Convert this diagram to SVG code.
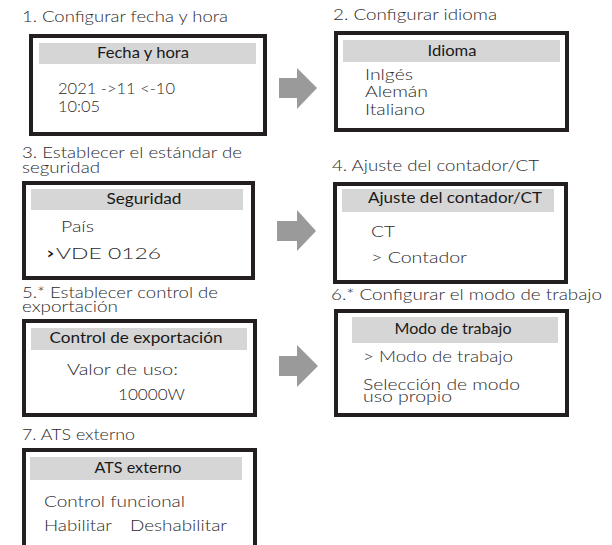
<svg xmlns="http://www.w3.org/2000/svg" width="612" height="545" viewBox="0 0 612 545">
<style>
text{font-family:Lato,"Open Sans","Liberation Sans",sans-serif;fill:#2a2a2a;font-weight:300;}
.t{font-size:16px;}
.h{font-size:15px;text-anchor:middle;fill:#1a1a1a;font-weight:400;}
.b{font-size:16px;}
.box{fill:#fff;stroke:#231f20;stroke-width:4;}
.hd{fill:#d6d6d6;}
.arr{fill:#9a9a9a;}
</style>
<rect width="612" height="545" fill="#fff"/>
<g id="n1">
<text class="t" x="22" y="22" textLength="206" lengthAdjust="spacingAndGlyphs">1. Configurar fecha y hora</text>
<rect class="box" x="31" y="36" width="234" height="98"/>
<rect class="hd" x="39" y="43" width="217" height="21"/>
<text class="h" x="143" y="58" textLength="92" lengthAdjust="spacingAndGlyphs">Fecha y hora</text>
<text class="b" x="58" y="94" textLength="117" lengthAdjust="spacingAndGlyphs">2021 -&gt;11 &lt;-10</text>
<text class="b" x="58" y="112" textLength="42" lengthAdjust="spacingAndGlyphs">10:05</text>
</g>
<g id="n2">
<text class="t" x="333" y="20" textLength="164" lengthAdjust="spacingAndGlyphs">2. Configurar idioma</text>
<rect class="box" x="336" y="33" width="231" height="97"/>
<rect class="hd" x="343" y="40" width="217" height="22"/>
<text class="h" x="452" y="56" textLength="49" lengthAdjust="spacingAndGlyphs">Idioma</text>
<text class="b" x="365" y="80" textLength="48" lengthAdjust="spacingAndGlyphs">Inlgés</text>
<text class="b" x="365" y="97" textLength="63" lengthAdjust="spacingAndGlyphs">Alemán</text>
<text class="b" x="365" y="115" textLength="60" lengthAdjust="spacingAndGlyphs">Italiano</text>
</g>
<g id="n3">
<text class="t" x="22" y="158" textLength="220" lengthAdjust="spacingAndGlyphs">3. Establecer el estándar de</text>
<text class="t" x="22" y="173" textLength="78" lengthAdjust="spacingAndGlyphs">seguridad</text>
<rect class="box" x="24" y="183" width="229" height="95"/>
<rect class="hd" x="31" y="189" width="212" height="21"/>
<text class="h" x="144" y="204" textLength="75" lengthAdjust="spacingAndGlyphs">Seguridad</text>
<text class="b" x="61" y="232" textLength="33" lengthAdjust="spacingAndGlyphs">País</text>
<text class="b" x="47" y="259" textLength="7" lengthAdjust="spacingAndGlyphs" style="font-weight:700;fill:#111">&gt;</text>
<text class="b" x="56" y="259" textLength="105" lengthAdjust="spacingAndGlyphs">VDE 0126</text>
</g>
<g id="n4">
<text class="t" x="332" y="171" textLength="207" lengthAdjust="spacingAndGlyphs">4. Ajuste del contador/CT</text>
<rect class="box" x="335" y="184" width="231" height="98"/>
<rect class="hd" x="342" y="189" width="212" height="23"/>
<text class="h" x="455" y="203" textLength="174" lengthAdjust="spacingAndGlyphs">Ajuste del contador/CT</text>
<text class="b" x="371" y="237" textLength="24" lengthAdjust="spacingAndGlyphs">CT</text>
<text class="b" x="371" y="263" textLength="96" lengthAdjust="spacingAndGlyphs">&gt; Contador</text>
</g>
<g id="n5">
<text class="t" x="22" y="298" textLength="196" lengthAdjust="spacingAndGlyphs">5.* Establecer control de</text>
<text class="t" x="22" y="312" textLength="96" lengthAdjust="spacingAndGlyphs">exportación</text>
<rect class="box" x="24" y="321" width="231" height="94"/>
<rect class="hd" x="31" y="328" width="216" height="22"/>
<text class="h" x="136" y="343" textLength="173" lengthAdjust="spacingAndGlyphs">Control de exportación</text>
<text class="b" x="67" y="375" textLength="111" lengthAdjust="spacingAndGlyphs">Valor de uso:</text>
<text class="b" x="118" y="400" textLength="67" lengthAdjust="spacingAndGlyphs">10000W</text>
</g>
<g id="n6">
<text class="t" x="331" y="300" textLength="271" lengthAdjust="spacingAndGlyphs">6.* Configurar el modo de trabajo</text>
<rect class="box" x="336" y="311" width="231" height="104"/>
<rect class="hd" x="352" y="317" width="206" height="26"/>
<text class="h" x="453" y="334" textLength="117" lengthAdjust="spacingAndGlyphs">Modo de trabajo</text>
<text class="b" x="363" y="362" textLength="150" lengthAdjust="spacingAndGlyphs">&gt; Modo de trabajo</text>
<text class="b" x="363" y="390" textLength="157" lengthAdjust="spacingAndGlyphs">Selección de modo</text>
<text class="b" x="363" y="402" textLength="89" lengthAdjust="spacingAndGlyphs">uso propio</text>
</g>
<g id="n7">
<text class="t" x="22" y="440" textLength="113" lengthAdjust="spacingAndGlyphs">7. ATS externo</text>
<rect class="box" x="24" y="450" width="231" height="120"/>
<rect class="hd" x="30" y="457" width="212" height="23"/>
<text class="h" x="138" y="473" textLength="87" lengthAdjust="spacingAndGlyphs">ATS externo</text>
<text class="b" x="44" y="507" textLength="141" lengthAdjust="spacingAndGlyphs">Control funcional</text>
<text class="b" x="44" y="531" textLength="68" lengthAdjust="spacingAndGlyphs">Habilitar</text>
<text class="b" x="130" y="531" textLength="97" lengthAdjust="spacingAndGlyphs">Deshabilitar</text>
</g>
<g id="connectors">
<polygon class="arr" points="279,78 297,78 297,68 317,88 297,109 297,98 279,98"/>
<polygon class="arr" points="277,221 297,221 297,210 316,231 297,251 297,241 277,241"/>
<polygon class="arr" points="279,356 297,356 297,345 318,366 297,387 297,376 279,376"/>
</g>
</svg>
